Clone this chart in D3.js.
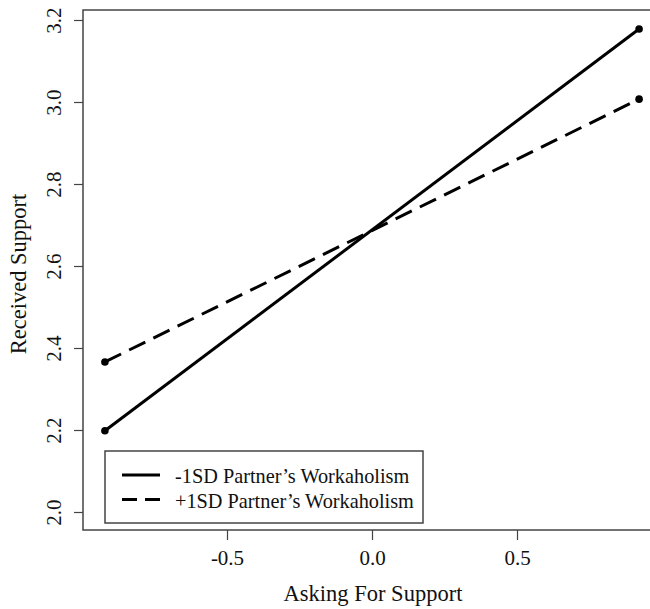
<!DOCTYPE html>
<html>
<head>
<meta charset="utf-8">
<script src="https://cdn.jsdelivr.net/npm/d3@7"></script>
<style>
  body { margin: 0; background: #fff; }
  text { font-family: "Liberation Serif", "Times New Roman", serif; fill: #111; }
</style>
</head>
<body>
<div id="chart"></div>
<script>
// valores
const askingX = [-0.921, 0.921];
const lowWork = [2.198, 3.178];   // -1SD
const highWork = [2.366, 3.007];  // +1SD
const seriesNames = ["-1SD Partner\u2019s Workaholism", "+1SD Partner\u2019s Workaholism"];
const xTicks = [-0.5, 0.0, 0.5];
const yTicks = [2.0, 2.2, 2.4, 2.6, 2.8, 3.0, 3.2];

const W = 650, H = 609;
const svg = d3.select("#chart").append("svg")
  .attr("width", W).attr("height", H);

const x = d3.scaleLinear().domain([-1, 1]).range([82, 662]);
const y = d3.scaleLinear().domain([2.0, 3.2]).range([512, 20]);

const box = { left: 83, top: 10, right: 662, bottom: 530 };
// guion normal en vez del signo menos de d3
const fmt = d => d3.format(".1f")(d).replace("\u2212", "-");

// caja del grafico
svg.append("rect")
  .attr("x", box.left).attr("y", box.top)
  .attr("width", box.right - box.left).attr("height", box.bottom - box.top)
  .attr("fill", "none").attr("stroke", "#444").attr("stroke-width", 1.5);

// eje y
const yAxis = svg.append("g")
  .attr("transform", `translate(${box.left},0)`)
  .call(d3.axisLeft(y).tickValues(yTicks).tickFormat(fmt).tickSize(9).tickPadding(0));
yAxis.select(".domain").remove();
yAxis.selectAll(".tick line").attr("stroke", "#444").attr("stroke-width", 1.2);
yAxis.selectAll(".tick text")
  .attr("x", 0).attr("dy", 0)
  .attr("transform", "translate(-22,0) rotate(-90)")
  .attr("text-anchor", "middle")
  .style("font-size", "21px");

// eje x
const xAxis = svg.append("g")
  .attr("transform", `translate(0,${box.bottom})`)
  .call(d3.axisBottom(x).tickValues(xTicks).tickFormat(fmt).tickSize(10).tickPadding(0));
xAxis.select(".domain").remove();
xAxis.selectAll(".tick line").attr("stroke", "#444").attr("stroke-width", 1.2);
xAxis.selectAll(".tick text")
  .attr("y", 35).attr("dy", 0)
  .style("font-size", "21px");

svg.selectAll(".tick text").attr("fill", "#111");

// titulos
svg.append("text")
  .attr("x", 373).attr("y", 601)
  .attr("text-anchor", "middle")
  .style("font-size", "22.5px")
  .text("Asking For Support");

svg.append("text")
  .attr("transform", `translate(26,${(box.top + box.bottom) / 2 + 4}) rotate(-90)`)
  .attr("text-anchor", "middle")
  .style("font-size", "22.5px")
  .text("Received Support");

// lineas
const series = [
  { vals: lowWork, dash: null },
  { vals: highWork, dash: "18,9" }
];
const line = d3.line().x((d, i) => x(askingX[i])).y(d => y(d));

series.forEach(s => {
  svg.append("path")
    .datum(s.vals)
    .attr("d", line)
    .attr("fill", "none")
    .attr("stroke", "#000")
    .attr("stroke-width", 3)
    .attr("stroke-dasharray", s.dash);
  svg.selectAll(null)
    .data(s.vals)
    .enter().append("circle")
    .attr("cx", (d, i) => x(askingX[i]))
    .attr("cy", d => y(d))
    .attr("r", 3.8)
    .attr("fill", "#000");
});

// leyenda
const leg = svg.append("g");
leg.append("rect")
  .attr("x", 105).attr("y", 451).attr("width", 318).attr("height", 72)
  .attr("fill", "#fff").attr("stroke", "#444").attr("stroke-width", 1.5);
series.forEach((s, i) => {
  const ly = 475 + i * 24.5;
  leg.append("line")
    .attr("x1", 122).attr("x2", 160).attr("y1", ly).attr("y2", ly)
    .attr("stroke", "#000").attr("stroke-width", 3)
    .attr("stroke-dasharray", s.dash ? "15,8" : null);
  leg.append("text")
    .attr("x", 175).attr("y", ly + 8)
    .style("font-size", "20.3px")
    .text(seriesNames[i]);
});
</script>
</body>
</html>
